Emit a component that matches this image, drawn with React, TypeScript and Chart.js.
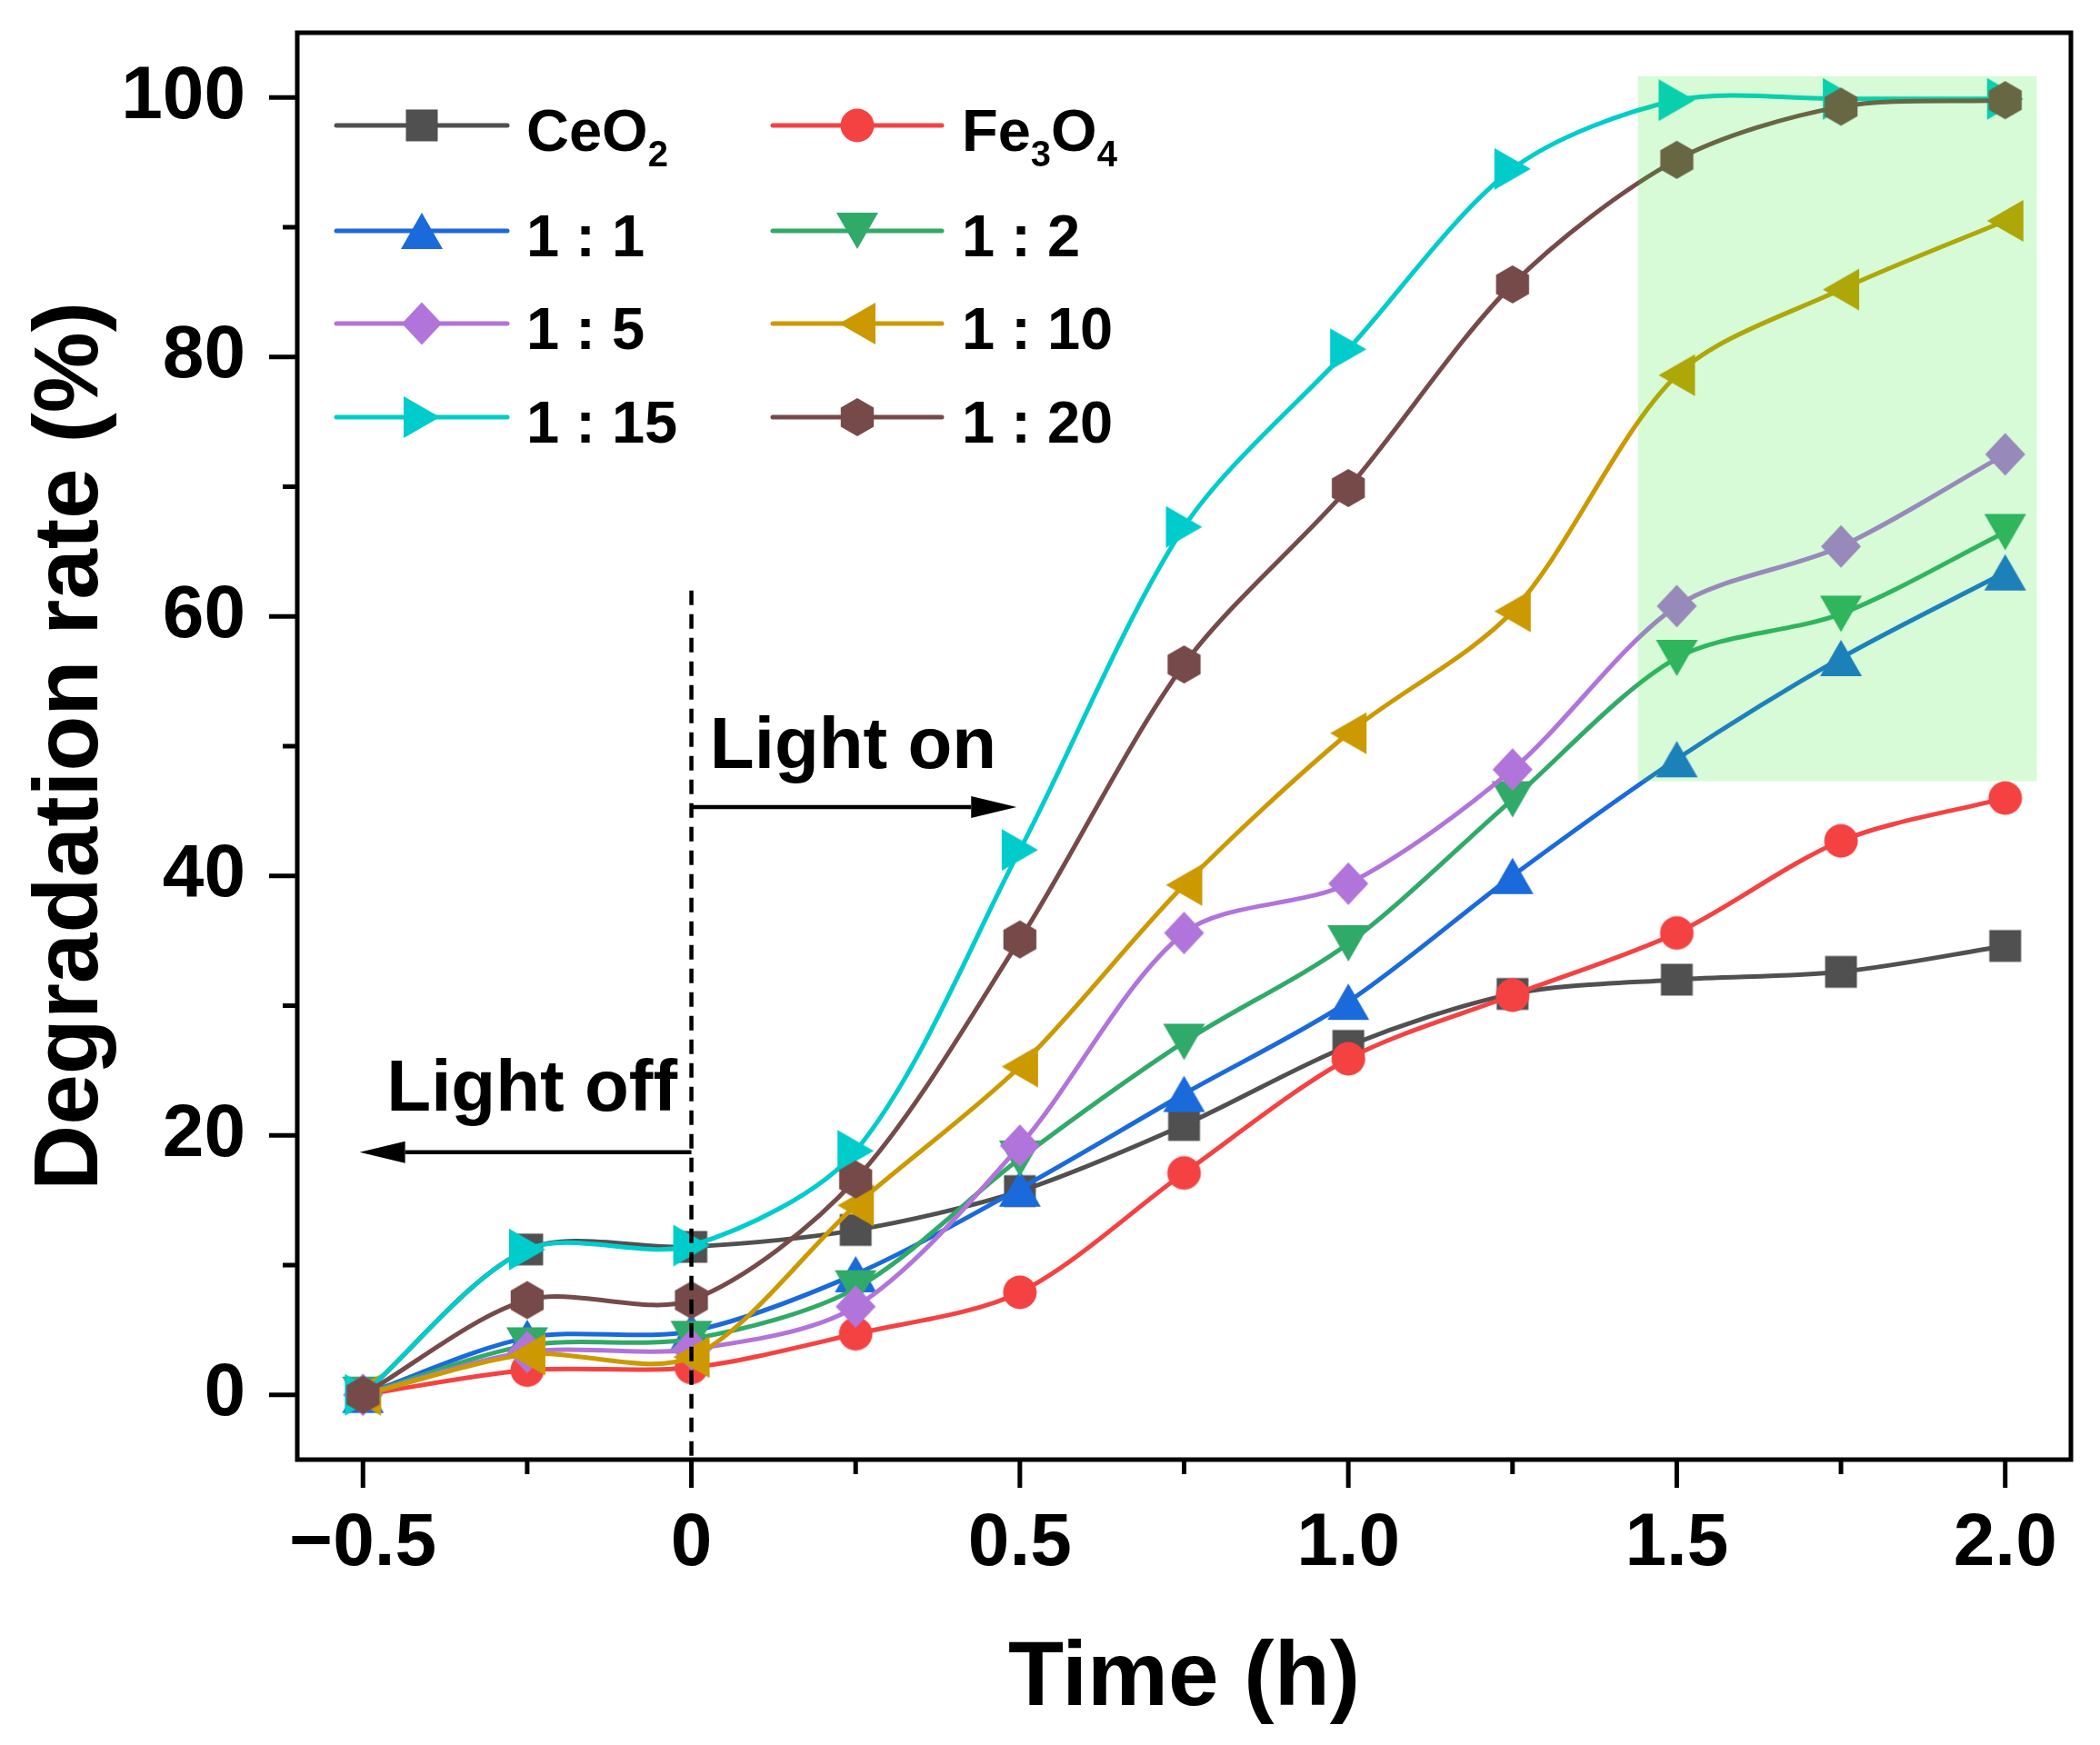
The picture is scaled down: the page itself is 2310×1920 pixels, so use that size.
import { useEffect, useRef } from 'react';
import { Chart, registerables } from 'chart.js';

Chart.register(...registerables);

// time in hours, dark phase from -0.5 to 0
const timeValues = [-0.5, -0.25, 0, 0.25, 0.5, 0.75, 1.0, 1.25, 1.5, 1.75, 2.0];

const ceo2 = [0, 11.2, 11.4, 12.7, 15.7, 20.8, 26.9, 30.9, 32.0, 32.6, 34.6];
const fe3o4 = [0, 1.9, 2.1, 4.7, 7.9, 17.1, 25.9, 30.8, 35.6, 42.7, 46.0];
const ratio1to1 = [0, 4.4, 4.9, 9.3, 15.9, 23.2, 30.3, 40.0, 49.0, 56.8, 63.4];
const ratio1to2 = [0, 3.8, 4.3, 8.2, 18.2, 27.2, 34.8, 45.9, 56.8, 60.2, 66.5];
const ratio1to5 = [0, 3.3, 3.5, 6.8, 19.2, 35.6, 39.4, 48.2, 60.8, 65.4, 72.5];
const ratio1to10 = [0, 3.1, 2.9, 14.6, 25.3, 39.3, 51.0, 60.4, 78.6, 85.2, 90.5];
const ratio1to15 = [0, 11.2, 11.5, 18.8, 42.0, 66.9, 80.6, 94.5, 99.8, 99.9, 99.9];
const ratio1to20 = [0, 7.3, 7.3, 16.6, 35.1, 56.3, 69.9, 85.6, 95.2, 99.3, 99.8];

const seriesValues = [ceo2, fe3o4, ratio1to1, ratio1to2, ratio1to5, ratio1to10, ratio1to15, ratio1to20];
// "_" marks a subscript character
const seriesLabels = ['CeO_2', 'Fe_3O_4', '1 : 1', '1 : 2', '1 : 5', '1 : 10', '1 : 15', '1 : 20'];
const seriesColors = ['#505050', '#F44242', '#1A6ADB', '#30AA68', '#B174DA', '#CC9900', '#00CCCC', '#774A4A'];
const seriesMarkers = ['square', 'circle', 'triUp', 'triDown', 'diamond', 'triLeft', 'triRight', 'hexagon'];

const xTickValues = [-0.5, 0, 0.5, 1.0, 1.5, 2.0];
const xTickLabels = ['\u22120.5', '0', '0.5', '1.0', '1.5', '2.0'];
const xMinorTicks = [-0.25, 0.25, 0.75, 1.25, 1.75];
const yTickValues = [0, 20, 40, 60, 80, 100];
const yTickLabels = ['0', '20', '40', '60', '80', '100'];
const yMinorTicks = [10, 30, 50, 70, 90];

// annotations (data coordinates)
const highlightX = [1.441, 2.048];
const highlightY = [47.3, 101.65];
const dividerTop = 62;
const lightOn = { text: 'Light on', x: 0.028, y: 48.3, arrowY: 45.3, arrowFrom: 0, arrowTo: 0.495 };
const lightOff = { text: 'Light off', x: -0.464, y: 21.9, arrowY: 18.7, arrowFrom: 0, arrowTo: -0.505 };

const FONT = "'Liberation Sans', Arial, sans-serif";

function makeMarker(shape: string, color: string): HTMLCanvasElement {
    const c = document.createElement('canvas');
    c.width = 50;
    c.height = 50;
    const g = c.getContext('2d')!;
    const cx = 25, cy = 25;
    g.fillStyle = color;
    g.beginPath();
    switch (shape) {
        case 'square':
            g.rect(cx - 17.5, cy - 17.5, 35, 35);
            break;
        case 'circle':
            g.arc(cx, cy, 18.5, 0, Math.PI * 2);
            break;
        case 'triUp':
            g.moveTo(cx, cy - 20); g.lineTo(cx + 23, cy + 20); g.lineTo(cx - 23, cy + 20);
            break;
        case 'triDown':
            g.moveTo(cx, cy + 20); g.lineTo(cx + 23, cy - 20); g.lineTo(cx - 23, cy - 20);
            break;
        case 'triLeft':
            g.moveTo(cx - 20, cy); g.lineTo(cx + 20, cy - 23); g.lineTo(cx + 20, cy + 23);
            break;
        case 'triRight':
            g.moveTo(cx + 20, cy); g.lineTo(cx - 20, cy - 23); g.lineTo(cx - 20, cy + 23);
            break;
        case 'diamond':
            g.moveTo(cx, cy - 23.5); g.lineTo(cx + 22, cy); g.lineTo(cx, cy + 23.5); g.lineTo(cx - 22, cy);
            break;
        case 'hexagon':
            for (let k = 0; k < 6; k++) {
                const a = -Math.PI / 2 + (k * Math.PI) / 3;
                const px = cx + 21 * Math.cos(a);
                const py = cy + 21 * Math.sin(a);
                if (k === 0) g.moveTo(px, py); else g.lineTo(px, py);
            }
            break;
    }
    g.closePath();
    g.fill();
    return c;
}

function drawArrow(ctx: CanvasRenderingContext2D, x0: number, x1: number, y: number) {
    const dir = Math.sign(x1 - x0);
    const headLen = 50, headHalf = 12;
    ctx.beginPath();
    ctx.moveTo(x0, y);
    ctx.lineTo(x1 - dir * headLen, y);
    ctx.stroke();
    ctx.beginPath();
    ctx.moveTo(x1, y);
    ctx.lineTo(x1 - dir * headLen, y - headHalf);
    ctx.lineTo(x1 - dir * headLen, y + headHalf);
    ctx.closePath();
    ctx.fill();
}

function drawRichLabel(ctx: CanvasRenderingContext2D, label: string, x: number, baseline: number) {
    let cursor = x;
    for (let i = 0; i < label.length; i++) {
        const ch = label[i];
        if (ch === '_') {
            const sub = label[i + 1];
            ctx.font = `bold 40px ${FONT}`;
            ctx.fillText(sub, cursor, baseline + 17);
            cursor += ctx.measureText(sub).width;
            i++;
        } else {
            ctx.font = `bold 65px ${FONT}`;
            ctx.fillText(ch, cursor, baseline);
            cursor += ctx.measureText(ch).width;
        }
    }
}

export default function App() {
    const canvasRef = useRef<HTMLCanvasElement>(null);
    const chartRef = useRef<Chart | null>(null);

    useEffect(() => {
        if (!canvasRef.current) return;
        const ctx = canvasRef.current.getContext('2d');
        if (!ctx) return;

        const markers = seriesMarkers.map((m, i) => makeMarker(m, seriesColors[i]));

        const decor = {
            id: 'decor',
            afterDatasetsDraw(chart: Chart) {
                const { ctx: c, chartArea, scales } = chart;
                const x = scales.x, y = scales.y;
                c.save();
                // translucent highlight over the last points
                c.fillStyle = 'rgba(40, 230, 40, 0.19)';
                const hx0 = x.getPixelForValue(highlightX[0]);
                const hx1 = x.getPixelForValue(highlightX[1]);
                const hy0 = y.getPixelForValue(highlightY[1]);
                const hy1 = y.getPixelForValue(highlightY[0]);
                c.fillRect(hx0, hy0, hx1 - hx0, hy1 - hy0);

                // dashed light switch line
                c.strokeStyle = '#000';
                c.fillStyle = '#000';
                c.lineWidth = 4.5;
                c.setLineDash([16, 10]);
                const x0 = x.getPixelForValue(0);
                c.beginPath();
                c.moveTo(x0, y.getPixelForValue(dividerTop));
                c.lineTo(x0, chartArea.bottom);
                c.stroke();
                c.setLineDash([]);

                for (const a of [lightOn, lightOff]) {
                    drawArrow(c, x.getPixelForValue(a.arrowFrom), x.getPixelForValue(a.arrowTo), y.getPixelForValue(a.arrowY));
                    c.font = `bold 80px ${FONT}`;
                    c.textAlign = 'left';
                    c.textBaseline = 'alphabetic';
                    c.fillText(a.text, x.getPixelForValue(a.x), y.getPixelForValue(a.y));
                }
                c.restore();
            },
            afterDraw(chart: Chart) {
                const { ctx: c, chartArea, scales } = chart;
                const x = scales.x, y = scales.y;
                const { left, right, top, bottom } = chartArea;
                c.save();
                c.strokeStyle = '#000';
                c.lineWidth = 5;
                c.strokeRect(left, top, right - left, bottom - top);
                c.beginPath();
                yTickValues.forEach(v => { const p = y.getPixelForValue(v); c.moveTo(left, p); c.lineTo(left - 31, p); });
                yMinorTicks.forEach(v => { const p = y.getPixelForValue(v); c.moveTo(left, p); c.lineTo(left - 16, p); });
                xTickValues.forEach(v => { const p = x.getPixelForValue(v); c.moveTo(p, bottom); c.lineTo(p, bottom + 31); });
                xMinorTicks.forEach(v => { const p = x.getPixelForValue(v); c.moveTo(p, bottom); c.lineTo(p, bottom + 16); });
                c.stroke();

                // legend: two columns, four rows
                const rows = [138, 254, 356, 459];
                const cols = [
                    { lineStart: 370, lineEnd: 558, marker: 464, text: 579 },
                    { lineStart: 850, lineEnd: 1036, marker: 943, text: 1058 },
                ];
                c.lineCap = 'round';
                c.textAlign = 'left';
                c.textBaseline = 'alphabetic';
                seriesLabels.forEach((label, i) => {
                    const col = cols[i % 2];
                    const ry = rows[Math.floor(i / 2)];
                    c.strokeStyle = seriesColors[i];
                    c.lineWidth = 5;
                    c.beginPath();
                    c.moveTo(col.lineStart, ry);
                    c.lineTo(col.lineEnd, ry);
                    c.stroke();
                    c.drawImage(markers[i], col.marker - 25, ry - 25);
                    c.fillStyle = '#000';
                    drawRichLabel(c, label, col.text, ry + 28);
                });
                c.restore();
            },
        };

        const n = seriesValues.length;
        chartRef.current = new Chart(ctx, {
            type: 'line',
            data: {
                datasets: seriesValues.map((vals, i) => ({
                    label: seriesLabels[i],
                    data: timeValues.map((t, j) => ({ x: t, y: vals[j] })),
                    borderColor: seriesColors[i],
                    backgroundColor: seriesColors[i],
                    borderWidth: 5,
                    borderCapStyle: 'round' as const,
                    borderJoinStyle: 'round' as const,
                    tension: 0.3,
                    pointStyle: markers[i],
                    pointRadius: 20,
                    pointHoverRadius: 20,
                    order: n - 1 - i,
                })),
            },
            options: {
                responsive: false,
                maintainAspectRatio: false,
                animation: false,
                events: [],
                layout: { padding: { left: 0, right: 32, top: 36, bottom: 0 } },
                scales: {
                    x: {
                        type: 'linear',
                        min: -0.6,
                        max: 2.1,
                        grid: { display: false, drawTicks: false },
                        border: { display: false },
                        afterBuildTicks: (scale: any) => { scale.ticks = xTickValues.map(v => ({ value: v })); },
                        afterFit: (scale: any) => { scale.height = 314; scale.paddingLeft = 0; scale.paddingRight = 0; },
                        ticks: {
                            autoSkip: false,
                            maxRotation: 0,
                            padding: 44,
                            color: '#000',
                            font: { family: FONT, size: 82, weight: 'bold' },
                            callback: (_v: any, idx: number) => xTickLabels[idx],
                        },
                        title: {
                            display: true,
                            text: 'Time (h)',
                            color: '#000',
                            font: { family: FONT, size: 100, weight: 'bold' },
                            padding: { top: 0, bottom: 12 },
                        },
                    },
                    y: {
                        type: 'linear',
                        min: -5,
                        max: 105,
                        grid: { display: false, drawTicks: false },
                        border: { display: false },
                        afterBuildTicks: (scale: any) => { scale.ticks = yTickValues.map(v => ({ value: v })); },
                        afterFit: (scale: any) => { scale.width = 327; scale.paddingTop = 0; scale.paddingBottom = 0; },
                        ticks: {
                            autoSkip: false,
                            padding: 57,
                            color: '#000',
                            font: { family: FONT, size: 82, weight: 'bold' },
                            callback: (_v: any, idx: number) => yTickLabels[idx],
                        },
                        title: {
                            display: true,
                            text: 'Degradation rate (%)',
                            color: '#000',
                            font: { family: FONT, size: 100, weight: 'bold' },
                            padding: { top: 19, bottom: 0 },
                        },
                    },
                },
                plugins: {
                    legend: { display: false },
                    tooltip: { enabled: false },
                },
            },
            plugins: [decor],
        });

        return () => {
            if (chartRef.current) {
                chartRef.current.destroy();
                chartRef.current = null;
            }
        };
    }, []);

    return (
        <div style={{ position: 'absolute', left: 0, top: 0, width: 2310, height: 1920, background: '#fff' }}>
            <canvas ref={canvasRef} width={2310} height={1920} style={{ display: 'block' }} />
        </div>
    );
}
